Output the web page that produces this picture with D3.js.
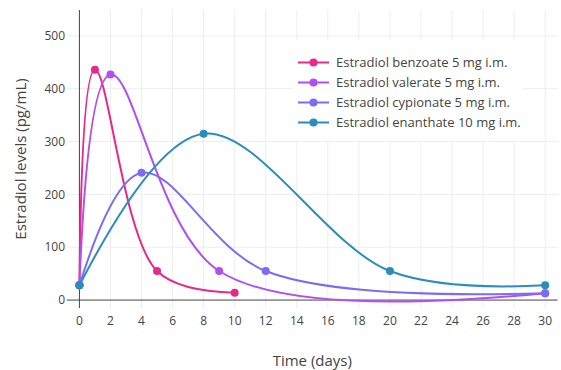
<!DOCTYPE html>
<html>
<head>
<meta charset="utf-8">
<script src="https://cdn.jsdelivr.net/npm/d3@7"></script>
<style>
	body { margin: 0; background: #fff; }
	text { font-family: "Open Sans", sans-serif; fill: #444; }
</style>
</head>
<body>
<svg id="chart" width="561" height="370"></svg>
<script>
// data
const seriesNames = [
	"Estradiol benzoate 5 mg i.m.",
	"Estradiol valerate 5 mg i.m.",
	"Estradiol cypionate 5 mg i.m.",
	"Estradiol enanthate 10 mg i.m."
]
const benzoateDays = [0, 1, 5, 10]
const benzoateLevels = [28, 436, 55, 14]
const valerateDays = [0, 2, 9, 30]
const valerateLevels = [28, 427, 55, 13]
const cypionateDays = [0, 4, 12, 30]
const cypionateLevels = [28, 241, 55, 13]
const enanthateDays = [0, 8, 20, 30]
const enanthateLevels = [28, 315, 55, 28]
const xTickValues = [0, 2, 4, 6, 8, 10, 12, 14, 16, 18, 20, 22, 24, 26, 28, 30]
const yTickValues = [0, 100, 200, 300, 400, 500]

const colours = ["#e7298a", "#b14ff0", "#7c6cf3", "#2b8cbe"]

const series = [
	[benzoateDays, benzoateLevels],
	[valerateDays, valerateLevels],
	[cypionateDays, cypionateLevels],
	[enanthateDays, enanthateLevels]
].map(([xs, ys], i) => ({
	name: seriesNames[i],
	colour: colours[i],
	points: xs.map((x, j) => ({ x, y: ys[j] }))
}))

const plot = { left: 67, right: 557.6, top: 10, bottom: 308 }

const x = d3.scaleLinear().domain([-0.8, 30.8]).range([plot.left, plot.right])
const y = d3.scaleLinear().domain([-15, 549]).range([plot.bottom, plot.top])

const svg = d3.select("#chart")

/**
 * plotly-style spline: catmull-rom tangents (exponent 0.5),
 * quadratic ends and cubic segments in between
 */
function splineCurve(context) {
	let pts
	const tangent = (p0, p1, p2) => {
		const d1x = p0[0] - p1[0], d1y = p0[1] - p1[1]
		const d2x = p2[0] - p1[0], d2y = p2[1] - p1[1]
		const d1a = Math.pow(d1x * d1x + d1y * d1y, 0.25)
		const d2a = Math.pow(d2x * d2x + d2y * d2y, 0.25)
		const numx = d2a * d2a * d1x - d1a * d1a * d2x
		const numy = d2a * d2a * d1y - d1a * d1a * d2y
		const den1 = 3 * d2a * (d1a + d2a)
		const den2 = 3 * d1a * (d1a + d2a)
		return [
			[p1[0] + (den1 && numx / den1), p1[1] + (den1 && numy / den1)],
			[p1[0] - (den2 && numx / den2), p1[1] - (den2 && numy / den2)]
		]
	}
	return {
		areaStart() {},
		areaEnd() {},
		lineStart() { pts = [] },
		point(px, py) { pts.push([+px, +py]) },
		lineEnd() {
			const n = pts.length
			context.moveTo(pts[0][0], pts[0][1])
			if (n < 3) {
				for (let i = 1; i < n; i++) context.lineTo(pts[i][0], pts[i][1])
				return
			}
			const t = []
			for (let i = 1; i < n - 1; i++) t.push(tangent(pts[i - 1], pts[i], pts[i + 1]))
			context.quadraticCurveTo(t[0][0][0], t[0][0][1], pts[1][0], pts[1][1])
			for (let i = 2; i < n - 1; i++) {
				context.bezierCurveTo(
					t[i - 2][1][0], t[i - 2][1][1],
					t[i - 1][0][0], t[i - 1][0][1],
					pts[i][0], pts[i][1]
				)
			}
			context.quadraticCurveTo(t[n - 3][1][0], t[n - 3][1][1], pts[n - 1][0], pts[n - 1][1])
		}
	}
}

// gridlines
svg.append("g")
	.selectAll("line")
	.data(xTickValues.filter((d) => d !== 0))
	.join("line")
	.attr("x1", (d) => x(d))
	.attr("x2", (d) => x(d))
	.attr("y1", plot.top)
	.attr("y2", plot.bottom)
	.attr("stroke", "#eee")
	.attr("stroke-width", 1)

svg.append("g")
	.selectAll("line")
	.data(yTickValues.filter((d) => d !== 0))
	.join("line")
	.attr("x1", plot.left)
	.attr("x2", plot.right)
	.attr("y1", (d) => y(d))
	.attr("y2", (d) => y(d))
	.attr("stroke", "#eee")
	.attr("stroke-width", 1)

// zero lines
svg.append("line")
	.attr("x1", x(0)).attr("x2", x(0))
	.attr("y1", plot.top).attr("y2", plot.bottom)
	.attr("stroke", "#444").attr("stroke-width", 1)
svg.append("line")
	.attr("x1", plot.left).attr("x2", plot.right)
	.attr("y1", y(0)).attr("y2", y(0))
	.attr("stroke", "#444").attr("stroke-width", 1)

// tick labels
svg.append("g")
	.selectAll("text")
	.data(xTickValues)
	.join("text")
	.attr("x", (d) => x(d))
	.attr("y", 325)
	.attr("text-anchor", "middle")
	.attr("font-size", 12)
	.text((d) => d)

svg.append("g")
	.selectAll("text")
	.data(yTickValues)
	.join("text")
	.attr("x", 65)
	.attr("y", (d) => y(d))
	.attr("dy", "0.35em")
	.attr("text-anchor", "end")
	.attr("font-size", 12)
	.text((d) => d)

// axis titles
svg.append("text")
	.attr("x", (plot.left + plot.right) / 2)
	.attr("y", 366)
	.attr("text-anchor", "middle")
	.attr("font-size", 15)
	.text("Time (days)")

svg.append("text")
	.attr("transform", `translate(26,${(plot.top + plot.bottom) / 2}) rotate(-90)`)
	.attr("text-anchor", "middle")
	.attr("font-size", 15)
	.text("Estradiol levels (pg/mL)")

// lines and markers
const line = d3.line()
	.x((d) => x(d.x))
	.y((d) => y(d.y))
	.curve(splineCurve)

const trace = svg.append("g")
	.selectAll(".trace")
	.data(series)
	.join("g")
	.attr("class", "trace")

trace.append("path")
	.attr("d", (d) => line(d.points))
	.attr("fill", "none")
	.attr("stroke", (d) => d.colour)
	.attr("stroke-width", 2)

trace.selectAll("circle")
	.data((d) => d.points.map((p) => ({ ...p, colour: d.colour })))
	.join("circle")
	.attr("cx", (d) => x(d.x))
	.attr("cy", (d) => y(d.y))
	.attr("r", 4)
	.attr("fill", (d) => d.colour)

// legend
const legend = svg.append("g").attr("transform", "translate(293,40)")

legend.append("rect")
	.attr("width", 230)
	.attr("height", 101)
	.attr("fill", "#fff")

const item = legend.selectAll(".item")
	.data(series)
	.join("g")
	.attr("class", "item")
	.attr("transform", (d, i) => `translate(0,${22.5 + i * 20})`)

item.append("line")
	.attr("x1", 5).attr("x2", 36)
	.attr("stroke", (d) => d.colour)
	.attr("stroke-width", 2)
item.append("circle")
	.attr("cx", 20.5)
	.attr("r", 4)
	.attr("fill", (d) => d.colour)
item.append("text")
	.attr("x", 43)
	.attr("dy", "0.35em")
	.attr("font-size", 13)
	.text((d) => d.name)
</script>
</body>
</html>
